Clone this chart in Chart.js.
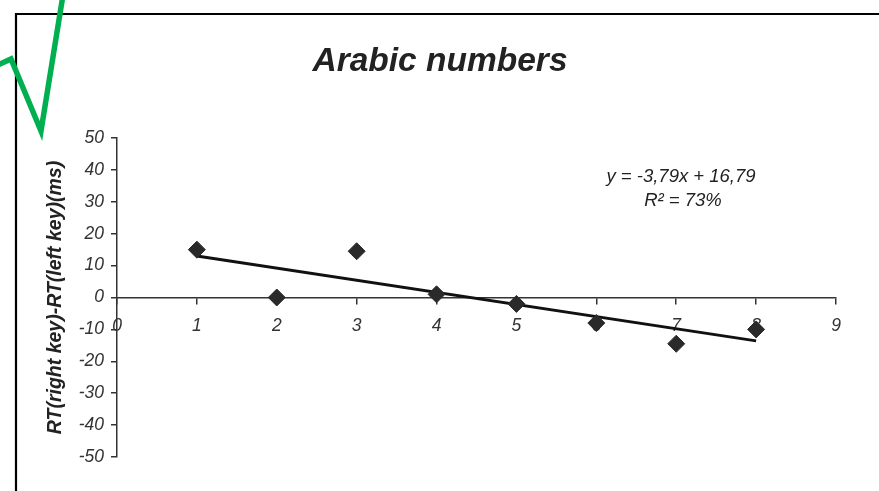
<!DOCTYPE html>
<html>
<head>
<meta charset="utf-8">
<script src="https://cdn.jsdelivr.net/npm/chart.js@4"></script>
<style>
  html, body { margin: 0; padding: 0; background: #fff; }
  #wrap { width: 879px; height: 491px; position: relative; }
</style>
</head>
<body>
<div id="wrap"><canvas id="c" width="879" height="491"></canvas></div>
<script>
// ---- data ----
const chartTitle = "Arabic numbers";
const yAxisTitle = "RT(right key)-RT(left key)(ms)";
const xValues = [1, 2, 3, 4, 5, 6, 7, 8];
const rtDiff = [15, 0, 14.5, 1, -2, -8, -14.5, -10];
const trendX = [1, 8];
const trendY = [13, -13.6];
const equationLines = ["y = -3,79x + 16,79", "R\u00B2 = 73%"];
const xTickRange = [0, 9];
const yTickRange = [-50, 50];

const FONT = "'Liberation Sans', Arial, sans-serif";

const decor = {
  id: 'decor',
  afterDraw(chart) {
    const ctx = chart.ctx;
    const ca = chart.chartArea;
    ctx.save();
    // frame
    ctx.strokeStyle = '#000';
    ctx.lineWidth = 2.2;
    ctx.beginPath();
    ctx.moveTo(16, 500);
    ctx.lineTo(16, 14);
    ctx.lineTo(900, 14);
    ctx.stroke();
    // title
    ctx.fillStyle = '#222';
    ctx.font = "italic bold 33.5px " + FONT;
    ctx.textAlign = 'center';
    ctx.textBaseline = 'middle';
    ctx.fillText(chartTitle, 440, 62);
    // equation
    ctx.font = "italic 18.5px " + FONT;
    ctx.fillStyle = '#222';
    ctx.fillText(equationLines[0], ca.left + 564, 177);
    ctx.fillText(equationLines[1], ca.left + 566, 201);
    // green check mark
    ctx.strokeStyle = '#00b050';
    ctx.lineWidth = 5.5;
    ctx.lineJoin = 'miter';
    ctx.miterLimit = 10;
    ctx.beginPath();
    ctx.moveTo(-2, 65);
    ctx.lineTo(11, 59);
    ctx.lineTo(41, 131);
    ctx.lineTo(63, -5);
    ctx.stroke();
    ctx.restore();
  }
};

new Chart(document.getElementById('c'), {
  type: 'scatter',
  data: {
    datasets: [
      {
        label: 'trend',
        type: 'line',
        data: trendX.map((x, i) => ({ x: x, y: trendY[i] })),
        borderColor: '#111',
        borderWidth: 3,
        pointRadius: 0,
        fill: false,
        order: 2
      },
      {
        label: 'RT difference',
        data: xValues.map((x, i) => ({ x: x, y: rtDiff[i] })),
        pointStyle: 'rectRot',
        pointRadius: 8.5,
        pointBackgroundColor: '#2a2a2a',
        pointBorderColor: '#2a2a2a',
        pointBorderWidth: 1,
        order: 1
      }
    ]
  },
  options: {
    responsive: false,
    animation: false,
    layout: { padding: { left: 42, top: 138, right: 43, bottom: 34 } },
    plugins: { legend: { display: false }, tooltip: { enabled: false }, title: { display: false } },
    scales: {
      x: {
        type: 'linear',
        position: { y: 0 },
        min: xTickRange[0],
        max: xTickRange[1],
        ticks: {
          stepSize: 1,
          color: '#333',
          font: { family: FONT, size: 17.5, style: 'italic' },
          padding: 12,
          maxRotation: 0
        },
        grid: { drawOnChartArea: false, drawTicks: true, tickLength: 6, color: '#333', lineWidth: 1.5 },
        border: { display: true, color: '#333', width: 1.5 }
      },
      y: {
        type: 'linear',
        position: 'left',
        min: yTickRange[0],
        max: yTickRange[1],
        afterFit(scale) { scale.width = 75; },
        ticks: {
          stepSize: 10,
          color: '#333',
          font: { family: FONT, size: 17.5, style: 'italic' },
          padding: 7
        },
        title: {
          display: true,
          text: yAxisTitle,
          color: '#222',
          font: { family: FONT, size: 19.5, style: 'italic', weight: 'bold' },
          padding: { top: 2, bottom: 2 }
        },
        grid: { drawOnChartArea: false, drawTicks: true, tickLength: 6, color: '#333', lineWidth: 1.5 },
        border: { display: true, color: '#333', width: 1.5 }
      }
    }
  },
  plugins: [decor]
});
</script>
</body>
</html>
